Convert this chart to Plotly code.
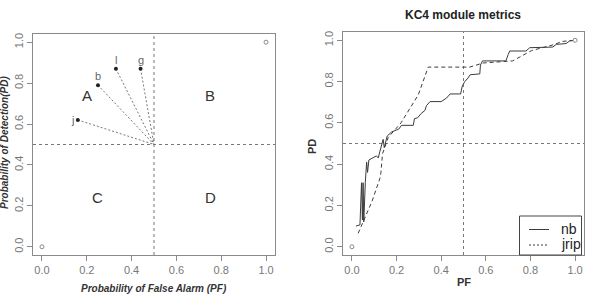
import plotly.graph_objects as go

# ---- Left panel data ----
learners = ["j", "b", "l", "g"]
learner_pf = [0.16, 0.25, 0.33, 0.44]
learner_pd = [0.62, 0.79, 0.87, 0.87]
corner_pf = [0.0, 1.0]
corner_pd = [0.0, 1.0]
threshold = 0.5
quad_labels = ["A", "B", "C", "D"]
quad_pf = [0.2, 0.75, 0.25, 0.75]
quad_pd = [0.74, 0.74, 0.24, 0.24]

# ---- Right panel data ----
nb_pf = [0.018, 0.036, 0.043, 0.047, 0.05, 0.053, 0.06, 0.066, 0.07, 0.076, 0.11, 0.118, 0.125,
         0.132, 0.14, 0.145, 0.158, 0.178, 0.2, 0.21, 0.222, 0.275, 0.28, 0.295, 0.31, 0.327,
         0.334, 0.35, 0.40, 0.424, 0.44, 0.487, 0.495, 0.506, 0.52, 0.53, 0.573, 0.576, 0.585,
         0.69, 0.70, 0.707, 0.78, 0.797, 0.90, 0.916, 0.96, 0.976, 1.0]
nb_pd = [0.10, 0.106, 0.31, 0.13, 0.31, 0.12, 0.31, 0.41, 0.36, 0.42, 0.44, 0.43, 0.46,
         0.49, 0.52, 0.48, 0.536, 0.556, 0.564, 0.57, 0.588, 0.588, 0.62, 0.625, 0.645, 0.66,
         0.683, 0.703, 0.703, 0.72, 0.74, 0.74, 0.78, 0.80, 0.817, 0.833, 0.837, 0.88, 0.90,
         0.90, 0.93, 0.948, 0.948, 0.964, 0.967, 0.98, 0.984, 0.997, 1.0]
jrip_pf = [0.028, 0.09, 0.125, 0.13, 0.137, 0.163, 0.22, 0.297, 0.342, 0.528, 0.588, 0.72,
           0.805, 0.909, 0.94, 1.0]
jrip_pd = [0.065, 0.22, 0.33, 0.36, 0.45, 0.53, 0.60, 0.735, 0.87, 0.87, 0.89, 0.90,
           0.95, 0.98, 0.994, 1.0]
series_names = ["nb", "jrip"]
ticks = [0.0, 0.2, 0.4, 0.6, 0.8, 1.0]
tick_text = ["0.0", "0.2", "0.4", "0.6", "0.8", "1.0"]

FONT = "Liberation Sans, Arial, sans-serif"
AX_COL = "#8a8a8a"
LINE_COL = "#3c3c3c"
THR_DASH = "3px,3px"
JRIP_DASH = "4px,3px"

fig = go.Figure()

def thr_lines(xa, ya):
    fig.add_trace(go.Scatter(x=[threshold, threshold], y=[-0.04, 1.04], mode="lines",
                             line=dict(color="#777", width=1, dash=THR_DASH),
                             xaxis=xa, yaxis=ya, showlegend=False, hoverinfo="skip"))
    fig.add_trace(go.Scatter(x=[-0.04, 1.04], y=[threshold, threshold], mode="lines",
                             line=dict(color="#777", width=1, dash=THR_DASH),
                             xaxis=xa, yaxis=ya, showlegend=False, hoverinfo="skip"))

# Left panel
thr_lines("x", "y")
for pf, pdv in zip(learner_pf, learner_pd):
    fig.add_trace(go.Scatter(x=[pf, threshold], y=[pdv, threshold], mode="lines",
                             line=dict(color="#777", width=1, dash="2px,2px"),
                             xaxis="x", yaxis="y", showlegend=False, hoverinfo="skip"))
fig.add_trace(go.Scatter(x=learner_pf, y=learner_pd, mode="markers",
                         marker=dict(color="#222", size=4),
                         xaxis="x", yaxis="y", showlegend=False))
fig.add_trace(go.Scatter(x=corner_pf, y=corner_pd, mode="markers",
                         marker=dict(color="white", size=4, line=dict(color="#888", width=1)),
                         xaxis="x", yaxis="y", showlegend=False))

# Right panel
thr_lines("x2", "y2")
fig.add_trace(go.Scatter(x=nb_pf, y=nb_pd, mode="lines", name=series_names[0],
                         line=dict(color=LINE_COL, width=1),
                         xaxis="x2", yaxis="y2", showlegend=False))
fig.add_trace(go.Scatter(x=jrip_pf, y=jrip_pd, mode="lines", name=series_names[1],
                         line=dict(color=LINE_COL, width=1, dash=JRIP_DASH),
                         xaxis="x2", yaxis="y2", showlegend=False))
fig.add_trace(go.Scatter(x=corner_pf, y=corner_pd, mode="markers",
                         marker=dict(color="white", size=4, line=dict(color="#888", width=1)),
                         xaxis="x2", yaxis="y2", showlegend=False))

axis_common = dict(range=[-0.04, 1.04], tickvals=ticks, ticktext=tick_text, showgrid=False,
                   zeroline=False, showline=True, linecolor=AX_COL, linewidth=1, mirror=True,
                   ticks="outside", ticklen=5, tickcolor=AX_COL,
                   tickfont=dict(family=FONT, size=11, color="#777"))

def P(px, py):
    return px / 597, 1 - py / 296

annotations = []
for lab, pf, pdv in zip(learners, learner_pf, learner_pd):
    dx, dy = (-5, 0) if lab == "j" else (0, 9)
    annotations.append(dict(x=pf, y=pdv, xref="x", yref="y", text=lab, showarrow=False,
                            xshift=dx, yshift=dy, xanchor="center", yanchor="middle",
                            font=dict(family=FONT, size=11, color="#666666")))
for lab, pf, pdv in zip(quad_labels, quad_pf, quad_pd):
    annotations.append(dict(x=pf, y=pdv, xref="x", yref="y", text=lab, showarrow=False,
                            xanchor="center", yanchor="middle",
                            font=dict(family=FONT, size=15, color="#333")))

def paper_text(px, py, text, size, angle=0, xanchor="center", color="#333"):
    x, y = P(px, py)
    return dict(x=x, y=y, xref="paper", yref="paper", showarrow=False, text=text,
                textangle=angle, xanchor=xanchor, yanchor="middle",
                font=dict(family=FONT, size=size, color=color))

annotations += [
    paper_text(154, 288, "<b><i>Probability of False Alarm (PF)</i></b>", 10),
    paper_text(4, 143, "<b><i>Probability of Detection(PD)</i></b>", 10, angle=-90),
    paper_text(463, 15, "<b>KC4 module metrics</b>", 12, color="#222"),
    paper_text(464, 282, "<b>PF</b>", 11),
    paper_text(312, 147, "<b>PD</b>", 11, angle=-90),
    paper_text(559, 229, series_names[0], 14, xanchor="left", color="#222"),
    paper_text(559, 244, series_names[1], 14, xanchor="left", color="#222"),
]

# Manual legend box (R-style)
bx0, by0 = P(519.5, 255)
bx1, by1 = P(581.5, 216)
lx0, ly1 = P(529, 229.5)
lx1, ly2 = P(549, 245)
shapes = [
    dict(type="rect", xref="paper", yref="paper", x0=bx0, y0=by0, x1=bx1, y1=by1,
         line=dict(color="#444", width=1), fillcolor="white", layer="above"),
    dict(type="line", xref="paper", yref="paper", x0=lx0, x1=lx1, y0=ly1, y1=ly1,
         line=dict(color=LINE_COL, width=1), layer="above"),
    dict(type="line", xref="paper", yref="paper", x0=lx0, x1=lx1, y0=ly2, y1=ly2,
         line=dict(color=LINE_COL, width=1, dash="2px,2px"), layer="above"),
]

fig.update_layout(
    width=597, height=296, margin=dict(l=0, r=0, t=0, b=0),
    paper_bgcolor="white", plot_bgcolor="white", showlegend=False,
    xaxis=dict(domain=[33 / 597, 275 / 597], anchor="y", **axis_common),
    yaxis=dict(domain=[1 - 255 / 296, 1 - 34 / 296], anchor="x", tickangle=-90, **axis_common),
    xaxis2=dict(domain=[343 / 597, 584 / 597], anchor="y2", **axis_common),
    yaxis2=dict(domain=[1 - 255 / 296, 1 - 32 / 296], anchor="x2", tickangle=-90, **axis_common),
    annotations=annotations,
    shapes=shapes,
)

fig.write_html("out.html")
